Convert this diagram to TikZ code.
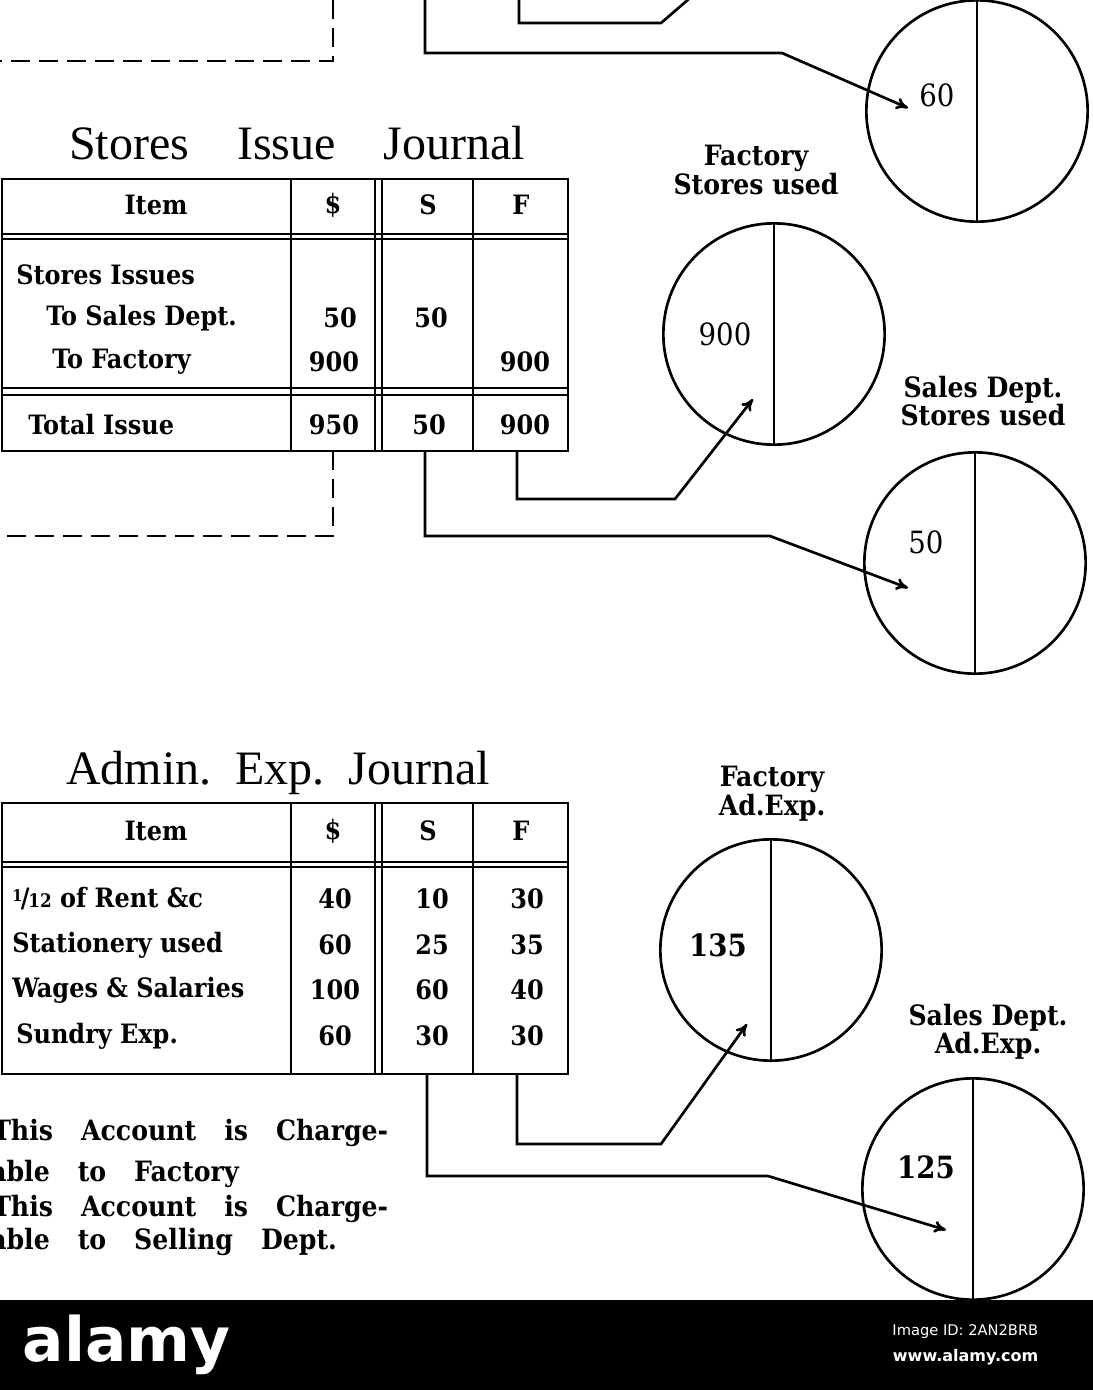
\documentclass[tikz,border=0pt]{standalone}
\usepackage{fontspec}
\setmainfont{Liberation Serif}
\newfontfamily\clar{DejaVu Serif Condensed}
\newfontfamily\banner{DejaVu Sans}
\usetikzlibrary{calc,arrows.meta,positioning}
\tikzset{
  rule/.style={line width=2.2pt},
  dash rule/.style={line width=2.2pt, dash pattern=on 14pt off 7pt},
  link/.style={line width=2pt},
  arrow/.style={line width=2pt,-{To[length=9pt,width=9pt]}},
  cell/.style={font=\clar\bfseries\fontsize{20}{22}\selectfont, inner sep=0pt},
  title/.style={font=\fontsize{36}{40}\selectfont, inner sep=0pt},
  ledger/.style={circle, draw, line width=2pt, minimum size=166pt, inner sep=0pt},
  amount/.style={font=\clar\fontsize{23}{25}\selectfont, inner sep=0pt},
  tag/.style={font=\clar\bfseries\fontsize{21}{20}\selectfont, align=center, inner sep=0pt},
  note/.style={font=\clar\bfseries\fontsize{21}{22}\selectfont, inner sep=0pt, anchor=base west}
}
% frame of a journal: top, header line, bottom
\newcommand{\journalbox}[3]{%
  \draw[rule] (2,#1) rectangle (568,#3);
  \draw[rule] (2,#2) -- (568,#2);
  \draw[rule] (2,#2+5) -- (568,#2+5);
  \foreach \cx in {291,375,382,473} \draw[rule] (\cx,#1) -- (\cx,#3);
}
\begin{document}
\begin{tikzpicture}[x=0.75pt,y=-0.75pt]
    \useasboundingbox (0,0) rectangle (1093,1390);

    % top remnants
    \draw[dash rule] (333,0) -- (333,61) -- (-5,61);
    \draw[link] (519,0) -- (519,23) -- (661,23) -- (690,-2);
    \node (c60) [ledger] at (977,111) {};
    \draw[link] (c60.north) -- (c60.south);
    \node[amount] at (937,95) {60};
    \draw[arrow] (425,0) -- (425,53) -- (782,53) -- ($(c60.center)+(-69,-3)$);

    % Stores Issue Journal
    \node[title] at (297,143) {Stores\quad Issue\quad Journal};
    \journalbox{179}{234}{451}
    \draw[rule] (2,388) -- (568,388);
    \draw[rule] (2,395) -- (568,395);
    \node[cell] at (156,205) {Item};
    \node[cell] at (333,205) {\$};
    \node[cell] at (428,205) {S};
    \node[cell] at (521,205) {F};
    \node[cell, anchor=west] at (16,275) {Stores Issues};
    \node[cell, anchor=west] at (46,318) {To Sales Dept.};
    \node[cell, anchor=west] at (52,362) {To Factory};
    \node[cell, anchor=west] at (28,425) {Total Issue};
    \node[cell] at (340,318) {50};
    \node[cell] at (431,318) {50};
    \node[cell] at (334,362) {900};
    \node[cell] at (525,362) {900};
    \node[cell] at (334,425) {950};
    \node[cell] at (429,425) {50};
    \node[cell] at (525,425) {900};
    \draw[dash rule] (333,451) -- (333,536) -- (-5,536);

    % Stores used ledgers
    \node (c900) [ledger] at (774,334) {};
    \draw[link] (c900.north) -- (c900.south);
    \node[amount] at (725,334) {900};
    \node[tag] at (756,170) {Factory\\Stores used};
    \node (c50) [ledger] at (975,563) {};
    \draw[link] (c50.north) -- (c50.south);
    \node[amount] at (926,542) {50};
    \node[tag] at (983,401) {Sales Dept.\\Stores used};
    \draw[arrow] (517,451) -- (517,499) -- (675,499) -- ($(c900.center)+(-21,65)$);
    \draw[arrow] (425,451) -- (425,536) -- (770,536) -- ($(c50.center)+(-67,25)$);

    % Admin. Exp. Journal
    \node[title] at (278,773) {Admin.\enspace Exp.\enspace Journal};
    \journalbox{803}{862}{1074}
    \node[cell] at (156,831) {Item};
    \node[cell] at (333,831) {\$};
    \node[cell] at (428,831) {S};
    \node[cell] at (521,831) {F};
    \node[cell, anchor=west] at (12,899) {\raisebox{5pt}{\fontsize{12}{12}\selectfont 1}\kern-1pt/\kern-1pt{\fontsize{14}{14}\selectfont 12} of Rent \&c};
    \node[cell, anchor=west] at (12,945) {Stationery used};
    \node[cell, anchor=west] at (12,990) {Wages \& Salaries};
    \node[cell, anchor=west] at (16,1036) {Sundry Exp.};
    \foreach \vy/\va/\vb/\vc in {899/40/10/30, 945/60/25/35, 990/100/60/40, 1036/60/30/30}{
      \node[cell] at (335,\vy) {\va};
      \node[cell] at (432,\vy) {\vb};
      \node[cell] at (527,\vy) {\vc};
    }
    \node[note] at (-8,1140) {This\quad Account\quad is\quad Charge-};
    \node[note] at (-10,1181) {able\quad to\quad Factory};
    \node[note] at (-8,1216) {This\quad Account\quad is\quad Charge-};
    \node[note] at (-10,1249) {able\quad to\quad Selling\quad Dept.};

    % Ad. Exp. ledgers
    \node (c135) [ledger] at (771,950) {};
    \draw[link] (c135.north) -- (c135.south);
    \node[amount, font=\clar\bfseries\fontsize{23}{25}\selectfont] at (718,945) {135};
    \node[tag] at (772,794) {Factory\\Ad.Exp.};
    \node (c125) [ledger] at (973,1189) {};
    \draw[link] (c125.north) -- (c125.south);
    \node[amount, font=\clar\bfseries\fontsize{23}{25}\selectfont] at (926,1167) {125};
    \node[tag] at (988,1032) {Sales Dept.\\Ad.Exp.};
    \draw[arrow] (517,1074) -- (517,1144) -- (661,1144) -- ($(c135.center)+(-24,74)$);
    \draw[arrow] (427,1074) -- (427,1176) -- (768,1176) -- ($(c125.center)+(-27,41)$);

    % banner
    \fill[black] (0,1300) rectangle (1093,1390);
    \node[text=white, font=\banner\bfseries\fontsize{46}{48}\selectfont, anchor=west] at (18,1345) {alamy};
    \node[text=white, font=\banner\fontsize{11}{12}\selectfont, anchor=east] at (1043,1332) {Image ID: 2AN2BRB};
    \node[text=white, font=\banner\bfseries\fontsize{12}{13}\selectfont, anchor=east] at (1043,1357) {www.alamy.com};
\end{tikzpicture}
\end{document}
